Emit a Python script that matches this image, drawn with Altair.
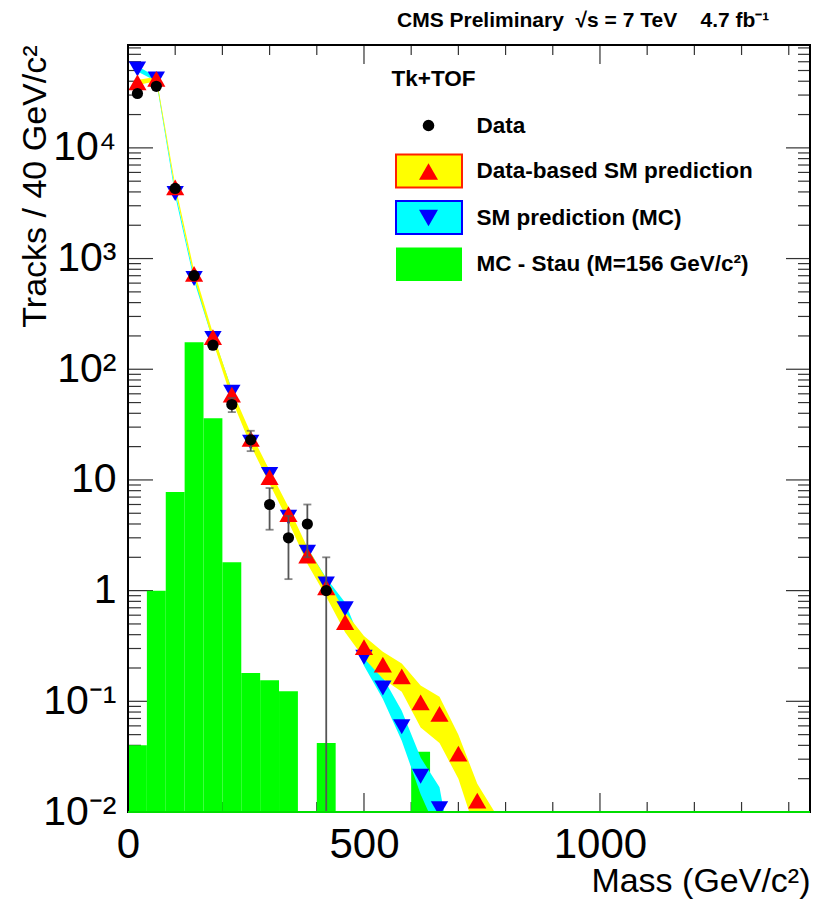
import math
import altair as alt
import pandas as pd

FONT = "Liberation Sans"

# ---------------- data ----------------
bin_centers = [20, 60, 100, 140, 180, 220, 260, 300, 340, 380, 420, 460, 500,
               540, 580, 620, 660, 700, 740, 780]

# observed data (Tk+TOF)
data_mass = [20, 60, 100, 140, 180, 220, 260, 300, 340, 380, 420]
data_tracks = [31000, 36000, 4300, 700, 165, 48, 23, 6, 3, 4, 1]
data_err_up = [176, 190, 66, 26, 13, 7, 4.8, 2.45, 1.73, 2, 1]
data_err_dn = [176, 190, 66, 26, 13, 7, 4.8, 2.45, 1.73, 2, 1]

# data-based SM prediction (red up-triangles, yellow band)
pred_mass = bin_centers
pred_val = [39000, 42000, 4400, 728, 195, 59, 23.5, 10.6, 4.9, 2.07, 1.07, 0.52,
            0.308, 0.215, 0.168, 0.098, 0.077, 0.0336, 0.0127, 0.004]
pred_lo = [37000, 40000, 4150, 680, 178, 53, 20.5, 9.2, 4.2, 1.75, 0.88, 0.42,
           0.245, 0.16, 0.122, 0.058, 0.042, 0.02, 0.006, 0.003]
pred_hi = [41000, 44000, 4650, 780, 212, 65, 26.5, 12.2, 5.7, 2.45, 1.28, 0.64,
           0.39, 0.28, 0.22, 0.139, 0.11, 0.05, 0.018, 0.0095]

# SM prediction from MC (blue down-triangles, cyan band)
mc_mass = [20, 60, 100, 140, 180, 220, 260, 300, 340, 380, 420, 460, 500,
           540, 580, 620, 660, 700]
mc_val = [51700, 42000, 3870, 660, 190, 62, 21.9, 11.2, 4.6, 2.22, 1.15, 0.685,
          0.25, 0.132, 0.059, 0.021, 0.0107, 0.001]
mc_lo = [49000, 40000, 3700, 630, 180, 58, 20.5, 10.3, 4.2, 2.0, 1.02, 0.6,
         0.21, 0.105, 0.044, 0.0145, 0.006, 0.0005]
mc_hi = [54500, 44000, 4050, 690, 205, 66, 23.5, 12.2, 5.0, 2.45, 1.3, 0.78,
         0.3, 0.165, 0.082, 0.031, 0.0167, 0.002]

# MC stau signal (M = 156 GeV/c^2), 40 GeV bins
stau_lo_edge = [0, 40, 80, 120, 160, 200, 240, 280, 320, 400, 600]
stau_hi_edge = [40, 80, 120, 160, 200, 240, 280, 320, 360, 440, 640]
stau_val = [0.04, 1.0, 7.8, 175, 36, 1.8, 0.18, 0.155, 0.123, 0.042, 0.035]

x_major = [0, 500, 1000]
x_minor = [100, 200, 300, 400, 600, 700, 800, 900, 1100, 1200, 1300, 1400]
y_major = [0.01, 0.1, 1, 10, 100, 1000, 10000]
y_major_labels = ["10⁻²", "10⁻¹", "1", "10", "10²", "10³", "10⁴"]
y_minor = [m * 10 ** e for e in range(-2, 5) for m in range(2, 10)]
y_minor = [v for v in y_minor if v < 85000]

legend_header = "Tk+TOF"
legend_labels = ["Data", "Data-based SM prediction", "SM prediction (MC)",
                 "MC - Stau (M=156 GeV/c²)"]
title_text = "CMS Preliminary\u00a0\u00a0√s = 7 TeV\u00a0\u00a0\u00a0 4.7 fb⁻¹"

# ---------------- frames ----------------
df_data = pd.DataFrame({"m": data_mass, "n": data_tracks,
                        "lo": [max(n - e, 1e-4) for n, e in zip(data_tracks, data_err_dn)],
                        "hi": [n + e for n, e in zip(data_tracks, data_err_up)]})
df_pred = pd.DataFrame({"m": pred_mass, "v": pred_val, "lo": pred_lo, "hi": pred_hi})
df_mc = pd.DataFrame({"m": mc_mass, "v": mc_val, "lo": mc_lo, "hi": mc_hi})
df_stau = pd.DataFrame({"a": stau_lo_edge, "b": stau_hi_edge, "v": stau_val})
df_one = pd.DataFrame({"m": [0], "v": [1]})
df_xmaj = pd.DataFrame({"m": x_major})
df_xmin = pd.DataFrame({"m": x_minor})
df_ymaj = pd.DataFrame({"v": y_major})
df_ymin = pd.DataFrame({"v": y_minor})

W, H = 682, 767
XMAX = 1445
YMIN, YMAX = 0.01, 85000
xs = alt.Scale(domain=[0, XMAX], nice=False, zero=False)
ys = alt.Scale(type="log", domain=[YMIN, YMAX], nice=False)

conds = ""
for v, lab in zip(y_major, y_major_labels):
    k = round(math.log10(v))
    conds += f"round(log(datum.value)/LN10) == {k} ? '{lab}' : "
y_label_expr = conds + "''"

TICK_COLOR = "#333333"

X = lambda f: alt.X(f, scale=xs, axis=None)
Y = lambda f: alt.Y(f, scale=ys, axis=None)

# axes: labels and titles only (ticks are drawn inside the frame below)
label_axes = alt.Chart(df_one).mark_point(opacity=0).encode(
    x=alt.X("m:Q", scale=xs, axis=alt.Axis(
        orient="bottom", values=x_major, format="d", labelFontSize=42,
        labelFont=FONT, labelColor="black", labelPadding=12, ticks=False,
        tickSize=0, domain=False, grid=False, labelFlush=False,
        labelOverlap=False, title="Mass (GeV/c²)", titleFont=FONT,
        titleFontSize=34, titleFontWeight="normal", titleColor="black",
        titleAlign="right", titleBaseline="alphabetic", titleX=W, titleY=79)),
    y=alt.Y("v:Q", scale=ys, axis=alt.Axis(
        orient="left", values=y_major, labelExpr=y_label_expr,
        labelFontSize=41, labelFont=FONT, labelColor="black",
        labelPadding=12, ticks=False, tickSize=0, domain=False, grid=False,
        labelFlush=False, labelOverlap=False,
        title="Tracks / 40 GeV/c²", titleFont=FONT, titleFontSize=34,
        titleFontWeight="normal", titleColor="black", titleAngle=270,
        titleAlign="right", titleBaseline="alphabetic", titleX=-83,
        titleY=0)),
)


def yticks(df, x0, x1):
    return alt.Chart(df).mark_rule(color=TICK_COLOR, strokeWidth=1.2).encode(
        y=Y("v:Q"), x=alt.value(x0), x2=alt.value(x1))


def xticks(df, y0, y1):
    return alt.Chart(df).mark_rule(color=TICK_COLOR, strokeWidth=1.2).encode(
        x=X("m:Q"), y=alt.value(y0), y2=alt.value(y1))


ticks = [
    yticks(df_ymaj, 0, 25), yticks(df_ymin, 0, 13),
    yticks(df_ymaj, W - 24, W), yticks(df_ymin, W - 12, W),
    xticks(df_xmaj, H - 19, H), xticks(df_xmin, H - 10, H),
    xticks(df_xmaj, 0, 19), xticks(df_xmin, 0, 10),
]

stau = alt.Chart(df_stau).mark_rect(color="#00FF00", clip=True).encode(
    x=X("a:Q"), x2="b:Q", y=Y("v:Q"), y2=alt.datum(YMIN))

frame = alt.Chart(df_one).mark_rect(fill="transparent", stroke="black",
                                    strokeWidth=2).encode(
    x=alt.value(0), x2=alt.value(W), y=alt.value(0), y2=alt.value(H))

baseline = alt.Chart(df_one).mark_rule(color="#00DD00", strokeWidth=2).encode(
    x=X("m:Q"), x2=alt.datum(XMAX),
    y=alt.YDatum(YMIN, scale=ys, axis=None))

cyan_band = alt.Chart(df_mc).mark_area(color="#00FFFF", opacity=1, clip=True).encode(
    x=X("m:Q"), y=Y("lo:Q"), y2="hi:Q")
yellow_band = alt.Chart(df_pred).mark_area(color="#FFFF00", opacity=1, clip=True).encode(
    x=X("m:Q"), y=Y("lo:Q"), y2="hi:Q")

blue_pts = alt.Chart(df_mc).mark_point(shape="triangle-down", filled=True, size=300,
                                       color="#0000FF", opacity=1, clip=True).encode(
    x=X("m:Q"), y=Y("v:Q"))
red_pts = alt.Chart(df_pred).mark_point(shape="triangle-up", filled=True, size=330,
                                        color="#FF0000", opacity=1, clip=True).encode(
    x=X("m:Q"), y=Y("v:Q"))

err = alt.Chart(df_data).mark_rule(color="#555555", strokeWidth=1.8, clip=True).encode(
    x=X("m:Q"), y=Y("lo:Q"), y2="hi:Q")
cap_hi = alt.Chart(df_data).mark_tick(color="#555555", orient="horizontal", size=8,
                                      thickness=1.8, clip=True).encode(
    x=X("m:Q"), y=Y("hi:Q"))
cap_lo = alt.Chart(df_data).mark_tick(color="#555555", orient="horizontal", size=8,
                                      thickness=1.8, clip=True).encode(
    x=X("m:Q"), y=Y("lo:Q"))
dots = alt.Chart(df_data).mark_point(shape="circle", filled=True, size=125,
                                     color="black", opacity=1, clip=True).encode(
    x=X("m:Q"), y=Y("n:Q"))


# ---------------- legend and header ----------------
def ltext(txt, x, y, size=22.5, baseline="middle"):
    return alt.Chart(pd.DataFrame({"t": [txt]})).mark_text(
        align="left", baseline=baseline, font=FONT, fontSize=size,
        fontWeight="bold", color="black").encode(
        x=alt.value(x), y=alt.value(y), text="t:N")


def lbox(fill, stroke, y0):
    return alt.Chart(df_one).mark_rect(fill=fill, stroke=stroke, strokeWidth=2).encode(
        x=alt.value(268), x2=alt.value(334), y=alt.value(y0), y2=alt.value(y0 + 33))


def lsym(shape, color, size, y):
    return alt.Chart(df_one).mark_point(shape=shape, filled=True, size=size,
                                        color=color, opacity=1).encode(
        x=alt.value(300.5), y=alt.value(y))


legend = [
    ltext(title_text, 269, -18, size=21, baseline="alphabetic"),
    ltext(legend_header, 263.5, 34),
    lsym("circle", "black", 135, 80.5),
    ltext(legend_labels[0], 348.5, 80.5),
    lbox("#FFFF00", "#FF2200", 109.5),
    lsym("triangle-up", "#FF0000", 360, 126.5),
    ltext(legend_labels[1], 348.5, 126),
    lbox("#00FFFF", "#0000FF", 156),
    lsym("triangle-down", "#0000FF", 360, 173),
    ltext(legend_labels[2], 348.5, 173),
    alt.Chart(df_one).mark_rect(fill="#00FF00").encode(
        x=alt.value(268), x2=alt.value(334), y=alt.value(202.5), y2=alt.value(236)),
    ltext(legend_labels[3], 348.5, 219),
]

chart = alt.layer(
    label_axes, *ticks,
    stau, cyan_band, yellow_band, blue_pts, red_pts,
    err, cap_hi, cap_lo, dots, frame, baseline, *legend,
).resolve_axis(x="independent", y="independent").properties(
    width=W, height=H,
    autosize=alt.AutoSizeParams(type="none"),
    padding={"left": 128, "top": 45, "right": 10, "bottom": 107},
).configure_view(stroke=None).configure(background="white")

chart.save("out.html", embed_options={"renderer": "svg", "actions": False})
